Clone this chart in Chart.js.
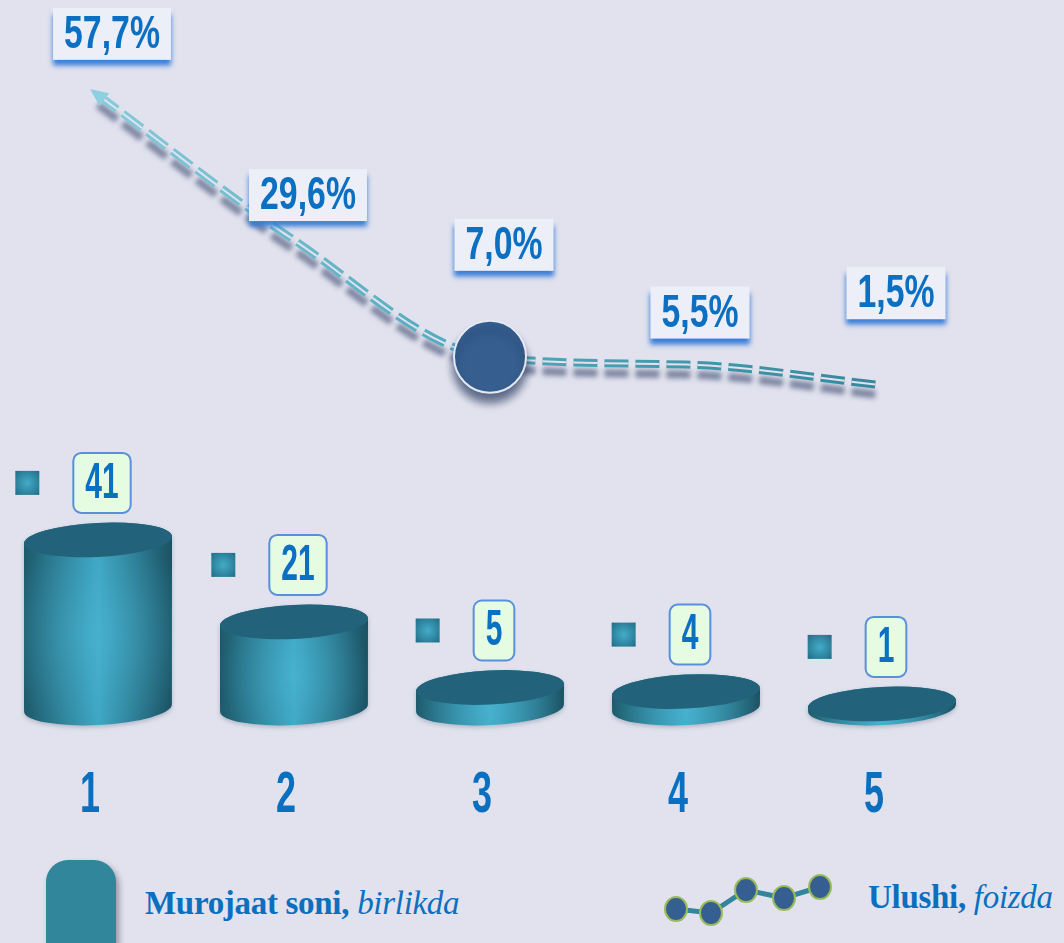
<!DOCTYPE html>
<html>
<head>
<meta charset="utf-8">
<script src="https://cdn.jsdelivr.net/npm/chart.js@4.4.0/dist/chart.umd.min.js"></script>
<style>
  body{margin:0;background:#e1e2ee;width:1064px;height:943px;overflow:hidden;position:relative;}
  canvas{position:absolute;left:0;}
  #topChart{top:0;}
  #barChart{top:420px;}
  .legtxt{position:absolute;font:bold 33px 'Liberation Serif',serif;color:#0b6fc0;line-height:1;white-space:nowrap;letter-spacing:-0.3px;}
  .legtxt i{font-weight:normal;}
</style>
</head>
<body>
<canvas id="topChart" width="1064" height="420"></canvas>
<canvas id="barChart" width="1064" height="420"></canvas>

<div style="position:absolute;left:46px;top:860px;width:70px;height:110px;border-radius:22px;background:#31869b;box-shadow:3px 4px 6px rgba(0,0,0,0.35)"></div>
<div class="legtxt" style="left:145px;top:887px">Murojaat soni, <i>birlikda</i></div>
<svg style="position:absolute;left:655px;top:868px" width="190" height="60">
  <polyline points="21,41 56,45 91,22 129,30 165,19" fill="none" stroke="#31869b" stroke-width="5"/>
  <g fill="#365f91" stroke="#9bbb59" stroke-width="2">
    <ellipse cx="21" cy="41" rx="11" ry="12"/>
    <ellipse cx="56" cy="45" rx="11" ry="12"/>
    <ellipse cx="91" cy="22" rx="11" ry="12"/>
    <ellipse cx="129" cy="30" rx="11" ry="12"/>
    <ellipse cx="165" cy="19" rx="11" ry="12"/>
  </g>
</svg>
<div class="legtxt" style="left:868px;top:881px">Ulushi, <i>foizda</i></div>

<script>
// data
const categories = ['1', '2', '3', '4', '5'];
const countValues = [41, 21, 5, 4, 1];
const shareValues = [57.7, 29.6, 7.0, 5.5, 1.5];
const countLabels = ['41', '21', '5', '4', '1'];
const shareLabels = ['57,7%', '29,6%', '7,0%', '5,5%', '1,5%'];

const BG = '#e1e2ee';
const BLUE = '#0b6fc2';

// narrow bold numbers (squeezed Liberation Sans)
function narrowText(c, txt, x, y, size, sx){
  c.save();
  c.font = "bold " + size + "px 'Liberation Sans', sans-serif";
  c.textAlign = 'center';
  c.textBaseline = 'middle';
  c.translate(x, y);
  c.scale(sx, 1);
  c.fillText(txt, 0, 0);
  c.restore();
}
function narrowWidth(c, txt, size, sx){
  c.save();
  c.font = "bold " + size + "px 'Liberation Sans', sans-serif";
  const w = c.measureText(txt).width * sx;
  c.restore();
  return w;
}

function lineGrad(ctx){
  const ch = ctx.chart;
  const a = ch.chartArea;
  if (!a) return '#5fb3c6';
  const g = ch.ctx.createLinearGradient(a.left, 0, a.right, 0);
  g.addColorStop(0, '#95d4e3');
  g.addColorStop(0.45, '#56abbf');
  g.addColorStop(1, '#2f8094');
  return g;
}

// shadows for the thick line and the circle
const shadowPlugin = {
  id: 'shadows',
  beforeDatasetDraw(chart, args){
    const c = chart.ctx;
    c.save();
    if (args.index === 2){
      c.shadowColor = 'rgba(45,60,100,0.55)';
      c.shadowBlur = 5;
      c.shadowOffsetY = 10;
    } else if (args.index === 0){
      c.shadowColor = 'rgba(20,40,80,0.65)';
      c.shadowBlur = 8;
      c.shadowOffsetY = 9;
    }
  },
  afterDatasetDraw(chart){
    chart.ctx.restore();
  }
};

// arrow head + percent boxes
const shareLabelPlugin = {
  id: 'shareLabels',
  afterDatasetsDraw(chart, args, opts){
    const c = chart.ctx;
    const pts = chart.getDatasetMeta(2).data;
    const p0 = pts[0];
    let dx = p0.x - p0.cp2x, dy = p0.y - p0.cp2y;
    const len = Math.hypot(dx, dy) || 1;
    dx /= len; dy /= len;
    c.save();
    c.fillStyle = '#8fd0e0';
    c.beginPath();
    c.moveTo(p0.x + dx * 10, p0.y + dy * 10);
    c.lineTo(p0.x - dx * 8 - dy * 8, p0.y - dy * 8 + dx * 8);
    c.lineTo(p0.x - dx * 8 + dy * 8, p0.y - dy * 8 - dx * 8);
    c.closePath();
    c.fill();
    c.restore();

    pts.forEach((p, i) => {
      const w = narrowWidth(c, shareLabels[i], 47, 0.72) + 22;
      const h = 52;
      const cx = p.x + 14;
      const cy = p.y + opts.offsets[i];
      c.save();
      c.shadowColor = 'rgba(50,120,215,0.95)';
      c.shadowBlur = 5;
      c.shadowOffsetY = 6;
      c.fillStyle = '#eceef8';
      c.fillRect(cx - w / 2, cy - h / 2, w, h);
      c.restore();
      c.fillStyle = BLUE;
      narrowText(c, shareLabels[i], cx, cy + 1, 47, 0.72);
    });
  }
};

new Chart(document.getElementById('topChart'), {
  type: 'line',
  data: {
    labels: categories,
    datasets: [
      {
        data: shareValues,
        showLine: false,
        pointRadius: [0, 0, 36, 0, 0],
        pointBackgroundColor: '#365f8f',
        pointBorderColor: '#e4e9f4',
        pointBorderWidth: 2,
        clip: false
      },
      {
        data: shareValues,
        borderColor: BG,
        borderWidth: 2,
        borderDash: [24, 7],
        cubicInterpolationMode: 'monotone',
        pointRadius: 0,
        clip: false
      },
      {
        data: shareValues,
        borderColor: lineGrad,
        borderWidth: 8,
        borderDash: [24, 7],
        cubicInterpolationMode: 'monotone',
        pointRadius: 0,
        clip: false
      }
    ]
  },
  options: {
    responsive: false,
    animation: false,
    events: [],
    layout: { padding: { top: 83, bottom: 27, left: 0, right: 84 } },
    plugins: {
      legend: { display: false },
      tooltip: { enabled: false },
      shareLabels: { offsets: [-61, -45, -112, -52, -92] }
    },
    scales: {
      x: { display: false, offset: true },
      y: { display: false, min: 0, max: 60 }
    }
  },
  plugins: [shadowPlugin, shareLabelPlugin]
});

// cylinders drawn on the bar elements, plus value boxes and category numbers
const cylinderPlugin = {
  id: 'cylinders',
  afterDatasetsDraw(chart){
    const c = chart.ctx;
    const bars = chart.getDatasetMeta(0).data;
    const xScale = chart.scales.x;
    const ry = 17, rot = -0.05;
    bars.forEach((b, i) => {
      const rx = b.width / 2;
      const top = b.y, base = b.base;
      const body = () => {
        c.beginPath();
        c.moveTo(b.x - rx, top);
        c.lineTo(b.x - rx, base);
        c.ellipse(b.x, base, rx, ry, rot, Math.PI, 0, true);
        c.lineTo(b.x + rx, top);
        c.ellipse(b.x, top, rx, ry, rot, 0, Math.PI, true);
        c.closePath();
      };
      const g = c.createLinearGradient(b.x - rx, 0, b.x + rx, 0);
      g.addColorStop(0, '#1d5a6b');
      g.addColorStop(0.5, '#3ea6c3');
      g.addColorStop(1, '#1b5263');
      c.save();
      c.shadowColor = 'rgba(30,50,80,0.25)';
      c.shadowBlur = 4;
      c.shadowOffsetY = 2;
      body();
      c.fillStyle = g;
      c.fill();
      c.restore();
      const my = (top + base) / 2 + 10;
      const rg = c.createRadialGradient(b.x, my, 2, b.x, my, Math.max(rx, (base - top) / 2 + ry));
      rg.addColorStop(0, 'rgba(80,190,220,0.45)');
      rg.addColorStop(1, 'rgba(80,190,220,0)');
      body();
      c.fillStyle = rg;
      c.fill();
      // top face
      c.beginPath();
      c.ellipse(b.x, top, rx, ry, rot, 0, Math.PI * 2);
      c.fillStyle = '#22627a';
      c.fill();

      // value box
      const tw = narrowWidth(c, countLabels[i], 50, 0.6) + 24;
      const bh = 60;
      const bx = b.x + 4 - tw / 2;
      const by = top - ry - 10 - bh;
      c.beginPath();
      c.roundRect(bx, by, tw, bh, 8);
      c.fillStyle = '#e5fce3';
      c.fill();
      c.lineWidth = 2;
      c.strokeStyle = '#5a8fdc';
      c.stroke();
      c.fillStyle = BLUE;
      narrowText(c, countLabels[i], b.x + 4, by + bh / 2 + 1, 50, 0.6);

      // little square
      const sx = bx - 34 - 24, sy = by + bh / 2 - 12;
      const sg = c.createRadialGradient(sx + 12, sy + 12, 1, sx + 12, sy + 12, 16);
      sg.addColorStop(0, '#42a8c4');
      sg.addColorStop(1, '#22708a');
      c.fillStyle = sg;
      c.fillRect(sx, sy, 24, 24);
    });

    // category numbers under the bars
    c.fillStyle = '#0b6fc0';
    chart.data.labels.forEach((lab, i) => {
      narrowText(c, lab, xScale.getPixelForValue(i) - 8, chart.chartArea.bottom + 88, 58, 0.62);
    });
  }
};

new Chart(document.getElementById('barChart'), {
  type: 'bar',
  data: {
    labels: categories,
    datasets: [{
      data: countValues,
      backgroundColor: 'rgba(0,0,0,0)',
      barPercentage: 0.755,
      categoryPercentage: 1
    }]
  },
  options: {
    responsive: false,
    animation: false,
    events: [],
    layout: { padding: { top: 83, bottom: 132, left: 0, right: 84 } },
    plugins: {
      legend: { display: false },
      tooltip: { enabled: false }
    },
    scales: {
      x: { display: false },
      y: { display: false, min: 0, max: 50 }
    }
  },
  plugins: [cylinderPlugin]
});
</script>
</body>
</html>
